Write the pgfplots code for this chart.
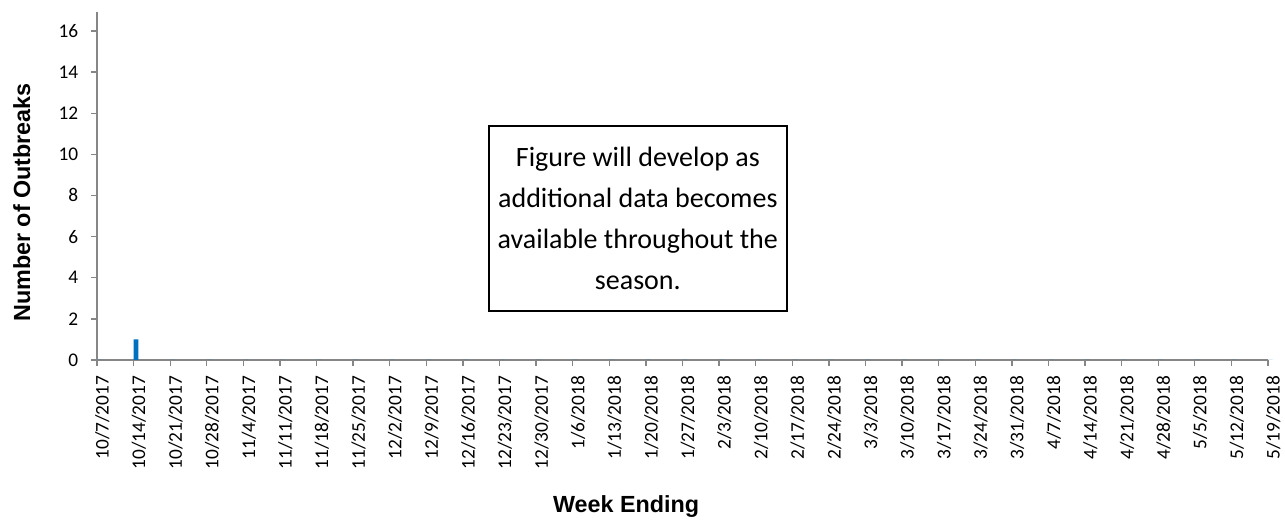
\documentclass[border=0pt]{standalone}
\usepackage{fontspec}
\setmainfont{Carlito}
\newfontfamily\arialfont{Liberation Sans}
\usepackage{pgfplots}
\pgfplotsset{compat=1.18}

\definecolor{barblue}{RGB}{0,112,192}
\definecolor{axisgray}{RGB}{134,134,134}

\begin{document}
\begin{tikzpicture}
% page size: 1285 x 523 px at 0.75pt per px
\useasboundingbox (-72.75pt,-122.25pt) rectangle (891pt,270pt);
\begin{axis}[
    at={(0,0)}, anchor=south west,
    scale only axis,
    width=878.25pt, height=261pt,
    xmin=0, xmax=32,
    ymin=0, ymax=16.92,
    axis x line*=bottom, axis y line*=left,
    axis line style={axisgray, line width=1.1pt},
    tick style={axisgray, line width=1pt},
    tick align=outside,
    major tick length=4.5pt,
    /pgf/number format/assume math mode=true,
    xtick={0,...,32},
    xticklabels={10/7/2017,10/14/2017,10/21/2017,10/28/2017,11/4/2017,11/11/2017,
      11/18/2017,11/25/2017,12/2/2017,12/9/2017,12/16/2017,12/23/2017,12/30/2017,
      1/6/2018,1/13/2018,1/20/2018,1/27/2018,2/3/2018,2/10/2018,2/17/2018,
      2/24/2018,3/3/2018,3/10/2018,3/17/2018,3/24/2018,3/31/2018,4/7/2018,
      4/14/2018,4/21/2018,4/28/2018,5/5/2018,5/12/2018,5/19/2018},
    x tick label style={font=\fontsize{14.5}{16}\selectfont, rotate=90, anchor=east, yshift=-4pt},
    xticklabel shift=4pt,
    ytick={0,2,...,16},
    y tick label style={font=\fontsize{14.5}{16}\selectfont},
    yticklabel shift=6pt,
    xlabel={Week Ending},
    ylabel={Number of Outbreaks},
    every axis x label/.style={at={(axis description cs:0.4518,-0.4368)}, anchor=base,
      font=\arialfont\bfseries\fontsize{17.5}{20}\selectfont},
    every axis y label/.style={at={(axis description cs:-0.0572,0.4526)}, anchor=base, rotate=90,
      font=\arialfont\bfseries\fontsize{17.5}{20}\selectfont},
    clip=false,
]
\addplot[ybar, bar width=3.5pt, bar shift=1.8pt, fill=barblue, draw=none] coordinates {
    (0,0) (1,1) (2,0) (3,0) (4,0) (5,0) (6,0) (7,0) (8,0) (9,0) (10,0)
    (11,0) (12,0) (13,0) (14,0) (15,0) (16,0) (17,0) (18,0) (19,0) (20,0)
    (21,0) (22,0) (23,0) (24,0) (25,0) (26,0) (27,0) (28,0) (29,0) (30,0)
    (31,0) (32,0)
};
\node[draw=black, line width=1pt, minimum width=223.5pt, minimum height=138.75pt,
      align=center, font=\fontsize{21}{30.75}\selectfont]
  at (axis cs:14.78,6.88)
  {Figure will develop as\\additional data becomes\\available throughout the\\season.};
\end{axis}
\end{tikzpicture}
\end{document}
